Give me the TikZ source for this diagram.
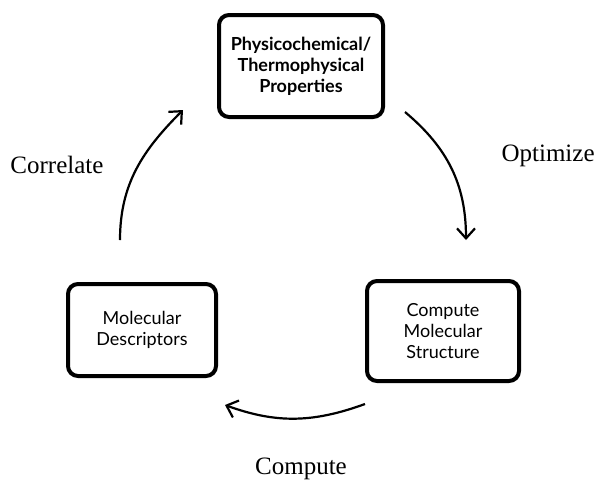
\documentclass[tikz,border=0pt]{standalone}
\usepackage{fontspec}
\setmainfont{Liberation Serif}
\setsansfont{Lato}
\usetikzlibrary{arrows.meta}
\begin{document}
\begin{tikzpicture}[x=0.5pt, y=0.5pt,
  stepbox/.style={draw, line width=2pt, rounded corners=5pt, align=center,
    font=\sffamily\fontsize{9}{10.5}\selectfont, inner sep=2pt},
  flow/.style={line width=1.1pt, -{Straight Barb[length=5pt, width=9pt, line width=1.1pt]}},
  lbl/.style={font=\fontsize{12.5}{14}\selectfont}]
    \useasboundingbox (0, 0) rectangle (596, -484);

    % Boxes
    \node [stepbox, minimum width=82pt, minimum height=51pt, font=\sffamily\bfseries\fontsize{9}{10.5}\selectfont]
          (props) at (301, -66) {Physicochemical/\\Thermophysical\\Properties};
    \node [stepbox, minimum width=76pt, minimum height=50pt] (struct) at (443, -331)
          {Compute\\Molecular\\Structure};
    \node [stepbox, minimum width=74pt, minimum height=46pt] (desc) at (142, -330)
          {Molecular\\Descriptors};

    % Arrow ends
    \coordinate (c0) at (120, -240);
    \coordinate (c1) at (183, -110);
    \coordinate (o0) at (405, -112);
    \coordinate (o1) at (466, -240);
    \coordinate (m0) at (365, -404);
    \coordinate (m1) at (225, -405);

    % Connections
    \draw [flow] (c0) to[out=90, in=-135] (c1);
    \draw [flow] (o0) to[out=-40, in=90] (o1);
    \draw [flow] (m0) to[out=200, in=-20] (m1);

    % Labels
    \node [lbl] (correlate) at (57, -165) {Correlate};
    \node [lbl, anchor=east, inner sep=0pt] (optimize) at (595, -156) {Optimize};
    \node [lbl] (compute) at (301, -469) {Compute};
\end{tikzpicture}
\end{document}
